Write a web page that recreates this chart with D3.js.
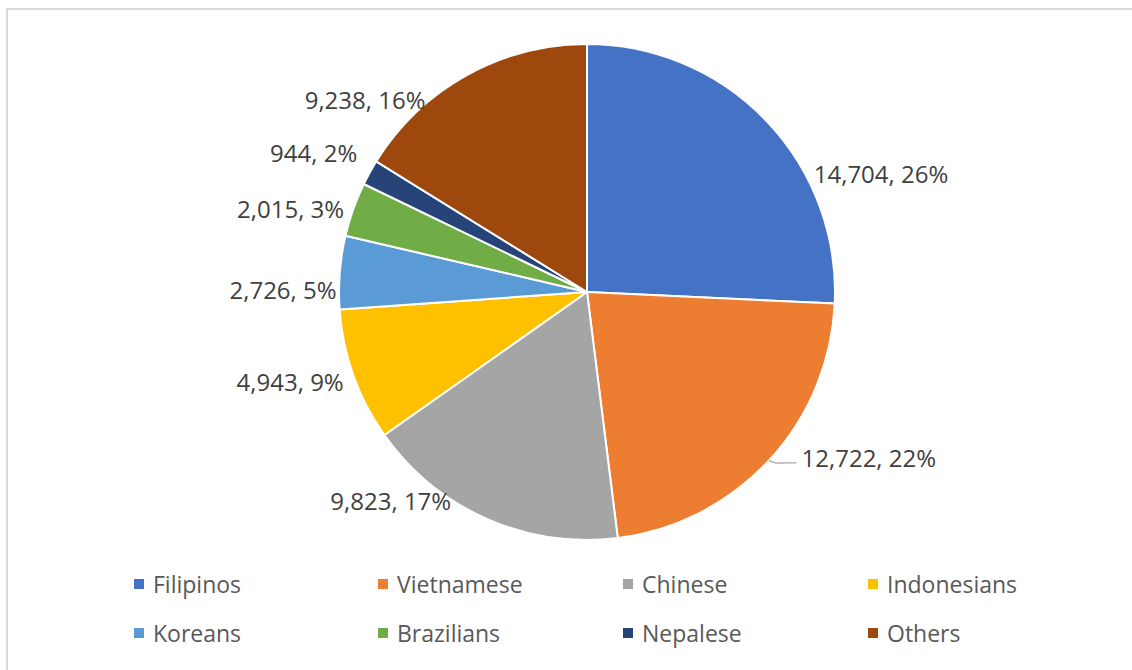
<!DOCTYPE html>
<html>
<head>
<meta charset="utf-8">
<script src="https://d3js.org/d3.v7.min.js"></script>
<style>
  html, body { margin: 0; padding: 0; background: #ffffff; }
  svg { display: block; font-family: "Open Sans", "Noto Sans", sans-serif; }
</style>
</head>
<body>
<svg id="chart" width="1132" height="670"></svg>
<script>
// Foreign residents by nationality
const categories = ["Filipinos", "Vietnamese", "Chinese", "Indonesians", "Koreans", "Brazilians", "Nepalese", "Others"];
const values = [14704, 12722, 9823, 4943, 2726, 2015, 944, 9238];
const colors = ["#4472C4", "#ED7D31", "#A5A5A5", "#FFC000", "#5B9BD5", "#70AD47", "#264478", "#9E480E"];

// Label placement: angular shift (degrees) from the slice middle and distance from the centre
const labelShift = [21.7, -12.3, 19.5, 2.9, -4.1, -3.7, -1.7, -19.9];
const labelDist = [317, 327, 286, 310, 304, 308, 307, 294];
const leaderFor = ["Vietnamese"];

const W = 1132, H = 670;
const cx = 587, cy = 292, R = 248;

const svg = d3.select("#chart");

// chart frame (right and bottom edges run past the view)
svg.append("rect")
  .attr("x", 7).attr("y", 9)
  .attr("width", W + 20).attr("height", H + 20)
  .attr("fill", "#ffffff")
  .attr("stroke", "#d9d9d9")
  .attr("stroke-width", 2);

const total = d3.sum(values);
const data = categories.map((c, i) => ({ name: c, value: values[i], color: colors[i], i }));

// whole-number percentages that add up to 100 (largest remainder)
const raw = values.map(v => v / total * 100);
const pcts = raw.map(Math.floor);
let left = 100 - d3.sum(pcts);
d3.range(values.length)
  .sort((a, b) => (raw[b] - pcts[b]) - (raw[a] - pcts[a]))
  .slice(0, left)
  .forEach(i => { pcts[i] += 1; });

const pie = d3.pie().sort(null).value(d => d.value);
const arcs = pie(data);
const arc = d3.arc().innerRadius(0).outerRadius(R);

const g = svg.append("g").attr("transform", `translate(${cx},${cy})`);

g.selectAll("path.slice")
  .data(arcs)
  .join("path")
  .attr("class", "slice")
  .attr("d", arc)
  .attr("fill", d => d.data.color)
  .attr("stroke", "#ffffff")
  .attr("stroke-width", 2)
  .attr("stroke-linejoin", "round");

const fmt = d3.format(",");

function polar(angle, r) {
  return [Math.sin(angle) * r, -Math.cos(angle) * r];
}

const labels = arcs.map(a => {
  const mid = (a.startAngle + a.endAngle) / 2;
  const ang = mid + labelShift[a.data.i] * Math.PI / 180;
  const [x, y] = polar(ang, labelDist[a.data.i]);
  return { a, mid, x, y, text: fmt(a.data.value) + ", " + pcts[a.data.i] + "%" };
});

const labelG = g.append("g");
const texts = labelG.selectAll("text")
  .data(labels)
  .join("text")
  .attr("x", d => d.x)
  .attr("y", d => d.y)
  .attr("text-anchor", "middle")
  .attr("dominant-baseline", "central")
  .attr("font-size", 24)
  .attr("fill", "#404040")
  .text(d => d.text);

// leader lines from the slice edge to the label
texts.each(function (d) {
  if (!leaderFor.includes(d.a.data.name)) return;
  const bb = this.getBBox();
  const [ex, ey] = polar(d.mid, R);
  const endX = bb.x - 5, endY = d.y + 5;
  const line = d3.line().curve(d3.curveBasis);
  labelG.append("path")
    .attr("d", line([[ex, ey], [ex + 6, ey + 3], [endX - 14, endY], [endX, endY]]))
    .attr("fill", "none")
    .attr("stroke", "#a6a6a6")
    .attr("stroke-width", 1.3);
});

// legend
const legendCols = [134, 378, 623, 868];
const legendRows = [584, 633];
const legend = svg.append("g");
data.forEach((d, i) => {
  const col = i % 4, row = Math.floor(i / 4);
  const x = legendCols[col], y = legendRows[row];
  legend.append("rect")
    .attr("x", x).attr("y", y - 5)
    .attr("width", 10).attr("height", 10)
    .attr("fill", d.color);
  legend.append("text")
    .attr("x", x + 19).attr("y", y)
    .attr("dominant-baseline", "central")
    .attr("font-size", 23)
    .attr("fill", "#595959")
    .text(d.name);
});
</script>
</body>
</html>
